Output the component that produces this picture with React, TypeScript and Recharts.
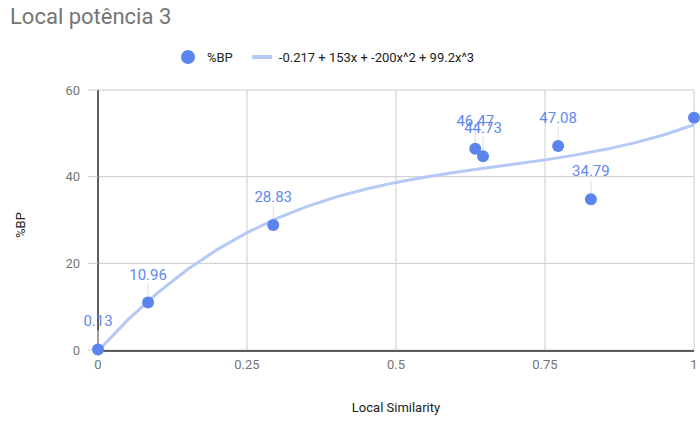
import React from 'react';
import { ComposedChart, Scatter, XAxis, YAxis, CartesianGrid } from 'recharts';

const simX = [0, 0.084, 0.294, 0.633, 0.646, 0.772, 0.827, 1.0];
const bpValues = [0.13, 10.96, 28.83, 46.47, 44.73, 47.08, 34.79, 53.6];
const pointLabels = ['0.13', '10.96', '28.83', '46.47', '44.73', '47.08', '34.79', ''];

const trendX = [0, 0.05, 0.1, 0.15, 0.2, 0.25, 0.3, 0.35, 0.4, 0.45, 0.5, 0.55, 0.6, 0.65, 0.7, 0.75, 0.8, 0.85, 0.9, 0.95, 1];
const trendY = [-0.22, 6.95, 13.18, 18.57, 23.18, 27.08, 30.36, 33.09, 35.33, 37.17, 38.68, 39.94, 41.01, 41.98, 42.91, 43.88, 44.97, 46.25, 47.8, 49.68, 51.98];

const xTicks = [0, 0.25, 0.5, 0.75, 1];
const yTicks = [0, 20, 40, 60];

const title = 'Local potência 3';
const seriesName = '%BP';
const trendName = '-0.217 + 153x + -200x^2 + 99.2x^3';
const xLabel = 'Local Similarity';
const yLabel = '%BP';

const points = simX.map((x, i) => ({ x, y: bpValues[i], label: pointLabels[i] }));
const trend = trendX.map((x, i) => ({ x, y: trendY[i] }));

const FONT = 'Roboto, Arial, sans-serif';
const DOT = '#5b84ef';
const TREND = '#b5c8f6';
const LABEL = '#5f87f0';

const PointShape = (props: any) => {
  const { cx, cy, payload } = props;
  const lbl = payload?.label;
  return (
    <g>
      {lbl ? (
        <>
          <line x1={cx} y1={cy - 19} x2={cx} y2={cy - 5} stroke="#dddddd" strokeWidth={1} />
          <text x={cx} y={cy - 23} textAnchor="middle" fontFamily={FONT} fontSize={15} fill={LABEL}>
            {lbl}
          </text>
        </>
      ) : null}
      <circle cx={cx} cy={cy} r={6} fill={DOT} />
    </g>
  );
};

const fmtX = (v: number) => String(v);

export default function App() {
  return (
    <div style={{ position: 'absolute', left: 0, top: 0, width: 700, height: 423, background: '#fff', fontFamily: FONT }}>
      <div style={{ position: 'absolute', left: 10, top: 4, fontSize: 22, color: '#757575', fontFamily: FONT, whiteSpace: 'nowrap' }}>
        {title}
      </div>
      <div style={{ position: 'absolute', left: 181, top: 48, height: 18, display: 'flex', alignItems: 'center', fontSize: 13, color: '#222', fontFamily: FONT, whiteSpace: 'nowrap' }}>
        <span style={{ display: 'inline-block', width: 14, height: 14, borderRadius: 7, background: DOT }} />
        <span style={{ marginLeft: 12 }}>{seriesName}</span>
        <span style={{ display: 'inline-block', width: 20, height: 4, background: TREND, marginLeft: 19 }} />
        <span style={{ marginLeft: 7 }}>{trendName}</span>
      </div>
      <div style={{ position: 'absolute', left: 396, top: 400, transform: 'translateX(-50%)', fontSize: 13, color: '#222', fontFamily: FONT, whiteSpace: 'nowrap' }}>
        {xLabel}
      </div>
      <div style={{ position: 'absolute', left: 20, top: 225, transform: 'translate(-50%, -50%) rotate(-90deg)', fontSize: 13, color: '#222', fontFamily: FONT, whiteSpace: 'nowrap' }}>
        {yLabel}
      </div>
      <div style={{ position: 'absolute', left: 0, top: 0 }}>
        <ComposedChart width={700} height={423} margin={{ top: 90, right: 6, bottom: 42, left: 38 }}>
          <CartesianGrid stroke="#cccccc" strokeWidth={1} />
          <XAxis
            type="number"
            dataKey="x"
            domain={[0, 1]}
            ticks={xTicks}
            tickFormatter={fmtX}
            height={30}
            tickLine={false}
            tickSize={0}
            tickMargin={9}
            axisLine={{ stroke: '#333', strokeWidth: 1.5 }}
            tick={{ fill: '#757575', fontSize: 13, fontFamily: FONT }}
          />
          <YAxis
            type="number"
            dataKey="y"
            domain={[0, 60]}
            ticks={yTicks}
            width={60}
            tickSize={10}
            tickMargin={8}
            tickLine={{ stroke: '#cccccc' }}
            axisLine={{ stroke: '#333', strokeWidth: 1.5 }}
            tick={{ fill: '#757575', fontSize: 13, fontFamily: FONT }}
          />
          <Scatter
            data={trend}
            dataKey="y"
            line={{ stroke: TREND, strokeWidth: 3 }}
            lineType="joint"
            shape={() => <g />}
            isAnimationActive={false}
          />
          <Scatter data={points} dataKey="y" shape={PointShape} isAnimationActive={false} />
        </ComposedChart>
      </div>
    </div>
  );
}
